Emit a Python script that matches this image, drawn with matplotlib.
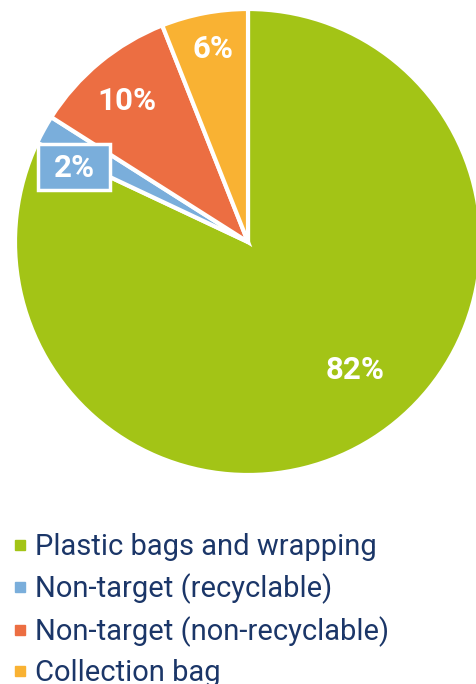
import matplotlib
matplotlib.use("Agg")
import matplotlib.pyplot as plt
from matplotlib.lines import Line2D
from matplotlib.patches import Rectangle

categories = ["Plastic bags and wrapping", "Non-target (recyclable)",
              "Non-target (non-recyclable)", "Collection bag"]
values = [82, 2, 10, 6]
labels = ["82%", "2%", "10%", "6%"]
colors = ["#A3C416", "#7AAEDB", "#EC6E42", "#F9B233"]
navy = "#1B3668"

fig = plt.figure(figsize=(4.76, 6.84), dpi=100)
ax = fig.add_axes([15/476, (442-233)/684, 466/476, 466/684])
wedges, _ = ax.pie(values, colors=colors, startangle=90, counterclock=False,
                   radius=1, wedgeprops=dict(edgecolor="white", linewidth=3))
ax.set_xlim(-1, 1)
ax.set_ylim(-1, 1)
ax.set_aspect("equal")
ax.axis("off")

def px(x, y):
    return ((x - 248) / 233, (242 - y) / 233)

lab_pos = [(355, 370), (74, 168), (127, 101), (213, 49)]
for lab, (x, y) in zip(labels, lab_pos):
    dx, dy = px(x, y)
    ax.text(dx, dy, lab, color="white", fontsize=22.5, fontweight="bold",
            family=["Roboto", "DejaVu Sans"], ha="center", va="center", zorder=5)

bx, by = px(38, 190)
ax.add_patch(Rectangle((bx, by), 72/233, 46/233, facecolor=colors[1],
                       edgecolor="white", linewidth=2.5, zorder=4, clip_on=False))

handles = [Line2D([], [], marker="s", linestyle="none", markersize=7,
                  markerfacecolor=c, markeredgecolor=c) for c in colors]
leg = fig.legend(handles, categories, loc="upper left",
                 bbox_to_anchor=(13/476, 1 - 533/684), frameon=False,
                 prop=dict(family=["Roboto", "DejaVu Sans"], size=21),
                 labelcolor=navy, handlelength=0.5, handletextpad=0.25,
                 labelspacing=0.42, borderpad=0.0, borderaxespad=0.0)

fig.savefig("out.png", dpi=100)
